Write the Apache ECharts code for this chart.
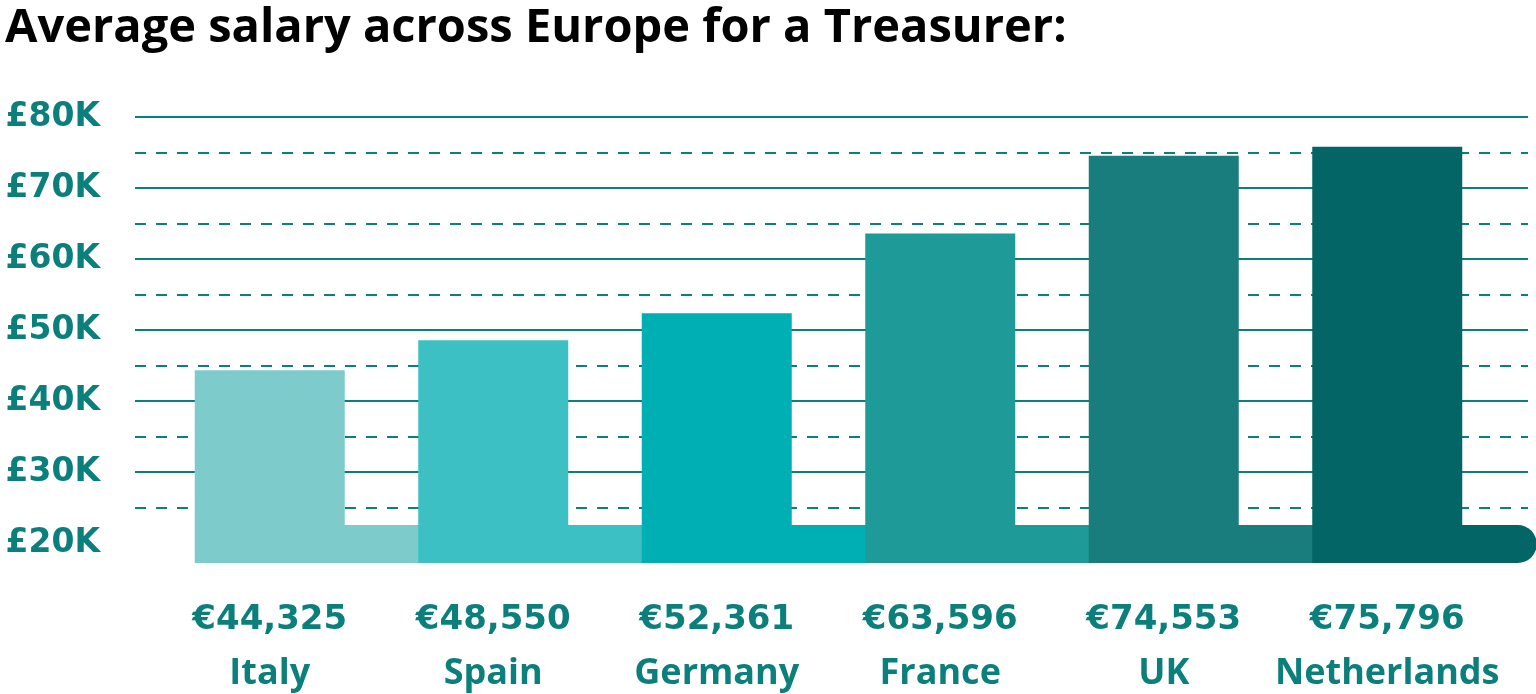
<!DOCTYPE html>
<html>
<head>
<meta charset="utf-8">
<script src="https://cdn.jsdelivr.net/npm/echarts@6/dist/echarts.min.js"></script>
<style>
html,body{margin:0;padding:0;background:#fff;}
#chart{width:1536px;height:694px;}
</style>
</head>
<body>
<div id="chart"></div>
<script>
const titleText = 'Average salary across Europe for a Treasurer:';
const countries = ['Italy', 'Spain', 'Germany', 'France', 'UK', 'Netherlands'];
const salaries = [44325, 48550, 52361, 63596, 74553, 75796];
const yTicks = [20, 30, 40, 50, 60, 70, 80]; // in thousands
const barColors = ['#7ecbcb', '#3dc0c4', '#00afb4', '#1e9a99', '#1a7d7d', '#036565'];

const teal = '#0b7f7c';
const titleFont = 'Open Sans';
const nameFont = 'Open Sans';
const numFont = 'DejaVu Sans';

const chart = echarts.init(document.getElementById('chart'), null, {renderer: 'canvas'});

const seriesData = salaries.map((v, i) => [i, v / 1000]);

const option = {
  backgroundColor: '#ffffff',
  animation: false,
  title: {
    text: titleText,
    left: 0,
    top: 0,
    textStyle: {fontFamily: titleFont, fontWeight: 'bold', fontSize: 47, color: '#000'}
  },
  grid: [
    {left: 135, right: 8, top: 117, bottom: 151},
    {left: 158, right: 37, top: 117, bottom: 151}
  ],
  xAxis: [
    {gridIndex: 0, type: 'value', show: false, min: 0, max: 1},
    {
      gridIndex: 1, type: 'category', data: countries,
      axisLine: {show: false}, axisTick: {show: false},
      axisLabel: {
        margin: 50,
        interval: 0,
        formatter: function (name, idx) {
          return '{v|€' + salaries[idx].toLocaleString('en-US') + '}\n{n|' + name + '}';
        },
        rich: {
          v: {fontFamily: numFont, fontWeight: 'bold', fontSize: 34, color: teal, lineHeight: 54},
          n: {fontFamily: nameFont, fontWeight: 'bold', fontSize: 36, color: teal, lineHeight: 54}
        }
      }
    }
  ],
  yAxis: [
    {
      gridIndex: 0, type: 'value', min: yTicks[0], max: yTicks[yTicks.length - 1], interval: 10,
      axisLine: {show: false}, axisTick: {show: false},
      axisLabel: {
        margin: 35,
        formatter: v => '£' + v + 'K',
        fontFamily: numFont, fontWeight: 'bold', fontSize: 33, color: teal
      },
      splitLine: {show: true, showMinLine: false, lineStyle: {color: teal, width: 2, type: 'solid'}},
      minorTick: {show: false, splitNumber: 2},
      minorSplitLine: {show: true, lineStyle: {color: teal, width: 2, type: [11, 10]}}
    },
    {gridIndex: 1, type: 'value', min: yTicks[0], max: yTicks[yTicks.length - 1], show: false}
  ],
  series: [{
    type: 'custom',
    xAxisIndex: 1,
    yAxisIndex: 1,
    clip: false,
    data: seriesData,
    encode: {x: 0, y: 1},
    renderItem: function (params, api) {
      const idx = api.value(0);
      const top = api.coord([idx, api.value(1)]);
      const base20 = api.coord([idx, yTicks[0]]);
      const band = api.size([1, 0])[0];
      const half = 75;
      const bottom = base20[1] + 20;
      const stripTop = base20[1] - 18;
      const color = barColors[idx];
      const cx = top[0];
      const isLast = idx === countries.length - 1;
      const stripX = cx + half - 1;
      const stripW = band - 2 * half + 2;
      return {
        type: 'group',
        children: [
          {
            type: 'rect',
            shape: {x: stripX, y: stripTop, width: stripW, height: bottom - stripTop, r: isLast ? [0, 19, 19, 0] : 0},
            style: {fill: color}
          },
          {
            type: 'rect',
            shape: {x: cx - half, y: top[1], width: 2 * half, height: bottom - top[1]},
            style: {fill: color}
          }
        ]
      };
    }
  }]
};

chart.setOption(option);
</script>
</body>
</html>
